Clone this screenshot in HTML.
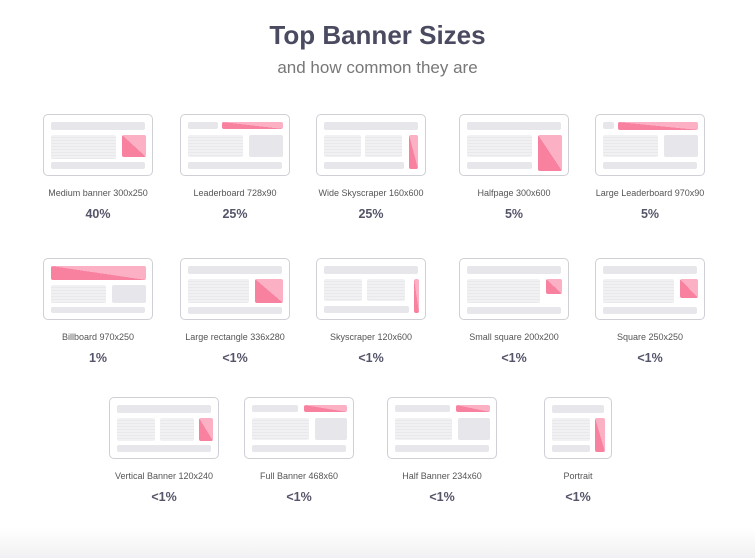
<!DOCTYPE html>
<html><head><meta charset="utf-8"><style>
body{margin:0;width:755px;height:558px;background:#fff;font-family:"Liberation Sans",sans-serif;position:relative;overflow:hidden}
.t{position:absolute;left:0;width:755px;text-align:center}
.c{position:absolute;width:108px;height:60px;border:1.5px solid #cfcfd6;border-radius:5px;background:#fff}
.c div{position:absolute;border-radius:2px}
.g{background:#e7e7eb}
.l{background:repeating-linear-gradient(#f1f1f3 0 2px,#e9e9ec 2px 3px)}
.p{background:linear-gradient(to bottom left,#fbb0c3 50%,#f7819e 50%)}
.lb{position:absolute;width:160px;text-align:center;font-size:9px;color:#555;}
.pc{position:absolute;width:160px;text-align:center;font-size:12.5px;font-weight:bold;color:#55556a}
</style></head><body>
<div class="t" style="top:20px;font-size:26px;font-weight:bold;color:#4a4a60">Top Banner Sizes</div>
<div class="t" style="top:58px;font-size:17px;color:#777">and how common they are</div>

<!-- row 1 -->
<div class="c" style="left:43px;top:114px"><div class="g" style="left:7px;top:7px;width:94px;height:8px"></div><div class="l" style="left:7px;top:20px;width:65px;height:24px"></div><div class="p" style="left:78px;top:20px;width:24px;height:22px"></div><div class="g" style="left:7px;top:47px;width:94px;height:7px"></div></div>
<div class="c" style="left:180px;top:114px"><div class="g" style="left:7px;top:7px;width:30px;height:7px"></div><div class="p" style="left:41px;top:7px;width:61px;height:7px"></div><div class="l" style="left:7px;top:20px;width:55px;height:22px"></div><div class="g" style="left:68px;top:20px;width:34px;height:22px"></div><div class="g" style="left:7px;top:47px;width:94px;height:7px"></div></div>
<div class="c" style="left:316px;top:114px"><div class="g" style="left:7px;top:7px;width:94px;height:8px"></div><div class="l" style="left:7px;top:20px;width:37px;height:22px"></div><div class="l" style="left:48px;top:20px;width:37px;height:22px"></div><div class="p" style="left:92px;top:20px;width:9px;height:34px"></div><div class="g" style="left:7px;top:47px;width:80px;height:7px"></div></div>
<div class="c" style="left:459px;top:114px"><div class="g" style="left:7px;top:7px;width:94px;height:8px"></div><div class="l" style="left:7px;top:20px;width:65px;height:22px"></div><div class="p" style="left:78px;top:20px;width:24px;height:36px"></div><div class="g" style="left:7px;top:47px;width:65px;height:7px"></div></div>
<div class="c" style="left:595px;top:114px"><div class="g" style="left:7px;top:7px;width:11px;height:7px"></div><div class="p" style="left:22px;top:7px;width:80px;height:8px"></div><div class="l" style="left:7px;top:20px;width:55px;height:22px"></div><div class="g" style="left:68px;top:20px;width:34px;height:22px"></div><div class="g" style="left:7px;top:47px;width:94px;height:7px"></div></div>

<div class="lb" style="left:18px;top:188px">Medium banner 300x250</div><div class="pc" style="left:18px;top:207px">40%</div>
<div class="lb" style="left:155px;top:188px">Leaderboard 728x90</div><div class="pc" style="left:155px;top:207px">25%</div>
<div class="lb" style="left:291px;top:188px">Wide Skyscraper 160x600</div><div class="pc" style="left:291px;top:207px">25%</div>
<div class="lb" style="left:434px;top:188px">Halfpage 300x600</div><div class="pc" style="left:434px;top:207px">5%</div>
<div class="lb" style="left:570px;top:188px">Large Leaderboard 970x90</div><div class="pc" style="left:570px;top:207px">5%</div>

<!-- row 2 -->
<div class="c" style="left:43px;top:258px"><div class="p" style="left:7px;top:7px;width:95px;height:14px"></div><div class="l" style="left:7px;top:26px;width:55px;height:18px"></div><div class="g" style="left:68px;top:26px;width:34px;height:18px"></div><div class="g" style="left:7px;top:48px;width:94px;height:6px"></div></div>
<div class="c" style="left:180px;top:258px"><div class="g" style="left:7px;top:7px;width:94px;height:8px"></div><div class="l" style="left:7px;top:20px;width:61px;height:24px"></div><div class="p" style="left:74px;top:20px;width:28px;height:24px"></div><div class="g" style="left:7px;top:48px;width:94px;height:7px"></div></div>
<div class="c" style="left:316px;top:258px"><div class="g" style="left:7px;top:7px;width:94px;height:8px"></div><div class="l" style="left:7px;top:20px;width:38px;height:22px"></div><div class="l" style="left:50px;top:20px;width:38px;height:22px"></div><div class="p" style="left:97px;top:20px;width:5px;height:34px"></div><div class="g" style="left:7px;top:47px;width:85px;height:7px"></div></div>
<div class="c" style="left:459px;top:258px"><div class="g" style="left:7px;top:7px;width:94px;height:8px"></div><div class="l" style="left:7px;top:20px;width:73px;height:24px"></div><div class="p" style="left:86px;top:20px;width:16px;height:15px"></div><div class="g" style="left:7px;top:48px;width:94px;height:7px"></div></div>
<div class="c" style="left:595px;top:258px"><div class="g" style="left:7px;top:7px;width:94px;height:8px"></div><div class="l" style="left:7px;top:20px;width:71px;height:24px"></div><div class="p" style="left:84px;top:20px;width:18px;height:19px"></div><div class="g" style="left:7px;top:48px;width:94px;height:7px"></div></div>

<div class="lb" style="left:18px;top:332px">Billboard 970x250</div><div class="pc" style="left:18px;top:351px">1%</div>
<div class="lb" style="left:155px;top:332px">Large rectangle 336x280</div><div class="pc" style="left:155px;top:351px">&lt;1%</div>
<div class="lb" style="left:291px;top:332px">Skyscraper 120x600</div><div class="pc" style="left:291px;top:351px">&lt;1%</div>
<div class="lb" style="left:434px;top:332px">Small square 200x200</div><div class="pc" style="left:434px;top:351px">&lt;1%</div>
<div class="lb" style="left:570px;top:332px">Square 250x250</div><div class="pc" style="left:570px;top:351px">&lt;1%</div>

<!-- row 3 -->
<div class="c" style="left:109px;top:397px"><div class="g" style="left:7px;top:7px;width:94px;height:8px"></div><div class="l" style="left:7px;top:20px;width:38px;height:23px"></div><div class="l" style="left:50px;top:20px;width:34px;height:23px"></div><div class="p" style="left:89px;top:20px;width:14px;height:23px"></div><div class="g" style="left:7px;top:47px;width:94px;height:7px"></div></div>
<div class="c" style="left:244px;top:397px"><div class="g" style="left:7px;top:7px;width:46px;height:7px"></div><div class="p" style="left:59px;top:7px;width:43px;height:7px"></div><div class="l" style="left:7px;top:20px;width:57px;height:22px"></div><div class="g" style="left:70px;top:20px;width:32px;height:22px"></div><div class="g" style="left:7px;top:47px;width:94px;height:7px"></div></div>
<div class="c" style="left:387px;top:397px"><div class="g" style="left:7px;top:7px;width:55px;height:7px"></div><div class="p" style="left:68px;top:7px;width:34px;height:7px"></div><div class="l" style="left:7px;top:20px;width:57px;height:22px"></div><div class="g" style="left:70px;top:20px;width:32px;height:22px"></div><div class="g" style="left:7px;top:47px;width:94px;height:7px"></div></div>
<div class="c" style="left:544px;top:397px;width:66px"><div class="g" style="left:7px;top:7px;width:52px;height:8px"></div><div class="l" style="left:7px;top:20px;width:38px;height:23px"></div><div class="p" style="left:50px;top:20px;width:10px;height:34px"></div><div class="g" style="left:7px;top:47px;width:38px;height:7px"></div></div>

<div class="lb" style="left:84px;top:471px">Vertical Banner 120x240</div><div class="pc" style="left:84px;top:490px">&lt;1%</div>
<div class="lb" style="left:219px;top:471px">Full Banner 468x60</div><div class="pc" style="left:219px;top:490px">&lt;1%</div>
<div class="lb" style="left:362px;top:471px">Half Banner 234x60</div><div class="pc" style="left:362px;top:490px">&lt;1%</div>
<div class="lb" style="left:498px;top:471px">Portrait</div><div class="pc" style="left:498px;top:490px">&lt;1%</div>
<div style="position:absolute;left:0;top:528px;width:755px;height:30px;background:linear-gradient(#fff,#f1f1f3)"></div>
</body></html>
